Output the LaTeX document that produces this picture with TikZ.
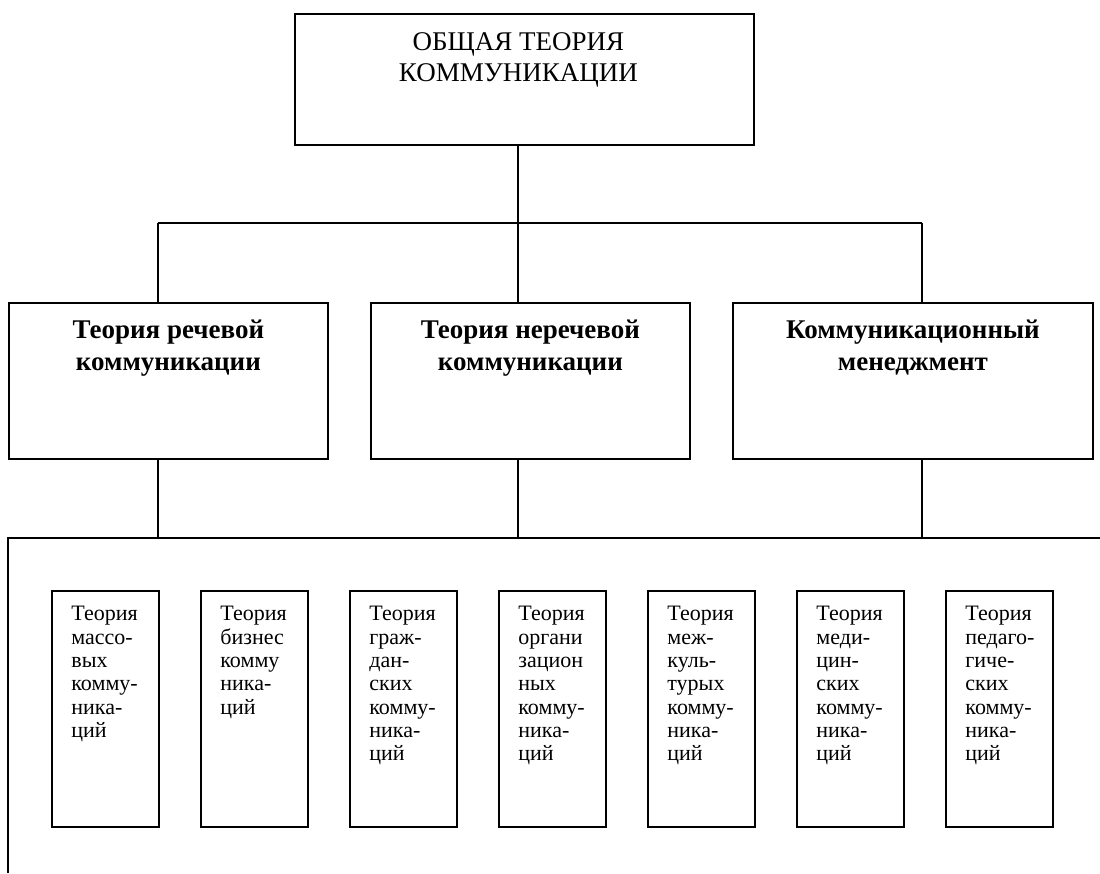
\documentclass[tikz,border=0pt]{standalone}
\usepackage{fontspec}
\setmainfont{Liberation Serif}
\usepackage{tikz}
\tikzset{
  rootbox/.style={rectangle, draw, line width=1.8pt, inner sep=0pt, anchor=north west},
  theorybox/.style={rectangle, draw, line width=1.8pt, inner sep=0pt, anchor=north west},
  branchbox/.style={rectangle, draw, line width=1.8pt, inner sep=0pt, anchor=north west},
  link/.style={line width=1.4pt}
}
\newcommand{\comroot}[3] {\node at (#1) (#2) [rootbox] {\parbox[t][131pt][t]{459pt}{\centering\advance\rightskip 12pt\fontsize{27}{31}\selectfont\rule{0pt}{37pt}#3}};}
\newcommand{\comtheory}[4] {\node at (#1) (#2) [theorybox] {\parbox[t][156pt][t]{#3}{\centering\bfseries\fontsize{27}{32}\selectfont\rule{0pt}{36pt}#4}};}
\newcommand{\combranch}[3] {\node at (#1) (#2) [branchbox] {\parbox[t][236pt][t]{107pt}{\raggedright\leftskip=19.5pt\fontsize{22}{23.3}\selectfont\rule{0pt}{30pt}#3}};}
\newcommand{\comlink}[2] {\draw [link] (#1) -- (#2);}

\begin{document}
\begin{tikzpicture}[x=1pt, y=-1pt]
\useasboundingbox (0,0) rectangle (1100,873);

\comroot {294,13}{root}{ОБЩАЯ ТЕОРИЯ\\КОММУНИКАЦИИ}

\comtheory {8,302}{speech}{319pt}{Теория речевой\\коммуникации}
\comtheory {370,302}{nonspeech}{319pt}{Теория неречевой\\коммуникации}
\comtheory {732,302}{management}{360pt}{Коммуникационный\\менеджмент}

\combranch {51,590}{mass}{Теория\\массо-\\вых\\комму-\\ника-\\ций}
\combranch {200,590}{business}{Теория\\бизнес\\комму\\ника-\\ций}
\combranch {349,590}{civil}{Теория\\граж-\\дан-\\ских\\комму-\\ника-\\ций}
\combranch {498,590}{organization}{Теория\\органи\\зацион\\ных\\комму-\\ника-\\ций}
\combranch {647,590}{intercultural}{Теория\\меж-\\куль-\\турых\\комму-\\ника-\\ций}
\combranch {796,590}{medical}{Теория\\меди-\\цин-\\ских\\комму-\\ника-\\ций}
\combranch {945,590}{pedagogical}{Теория\\педаго-\\гиче-\\ских\\комму-\\ника-\\ций}

\coordinate (busl) at (158,223);
\coordinate (busm) at (518,223);
\coordinate (busr) at (922,223);
\coordinate (lowl) at (158,538);
\coordinate (lowm) at (518,538);
\coordinate (lowr) at (922,538);
\coordinate (lowstart) at (8,538);
\coordinate (lowend) at (1100,538);
\coordinate (lowfoot) at (8,873);

\comlink {busm |- root.south}{busm}
\comlink {busl}{busr}
\comlink {busl}{busl |- speech.north}
\comlink {busm}{busm |- nonspeech.north}
\comlink {busr}{busr |- management.north}
\comlink {lowl |- speech.south}{lowl}
\comlink {lowm |- nonspeech.south}{lowm}
\comlink {lowr |- management.south}{lowr}
\draw [link] (lowend) -- (lowstart) -- (lowfoot);
\end{tikzpicture}
\end{document}
